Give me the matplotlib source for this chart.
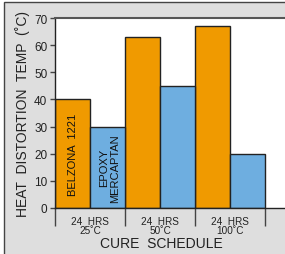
import matplotlib.pyplot as plt
from matplotlib.patches import Rectangle

plt.rcParams['font.family'] = ['Liberation Sans', 'DejaVu Sans']

# data
schedules = ['24  HRS\n25˚C', '24  HRS\n50˚C', '24  HRS\n100˚C']
belzona = [40, 63, 67]
epoxy = [30, 45, 20]
orange = '#f09a00'
blue = '#6eaee0'
bg = '#dedede'

fig = plt.figure(figsize=(2.85, 2.55), dpi=100)
fig.patch.set_facecolor('white')
# outer grey panel with frame
fig.patches.append(Rectangle((4/285, -0.1), 1.2, (255-3)/255 + 0.1, transform=fig.transFigure,
                             facecolor=bg, edgecolor='#444444', linewidth=1.0, zorder=-1))

ax = fig.add_axes([55/285, (255-209)/255, 230/285, (209-19)/255])
ax.set_zorder(1)
ax.set_facecolor('white')

xs = [1, 3, 5]
ax.bar([x - 0.5 for x in xs], belzona, width=1, color=orange, edgecolor='#222222', linewidth=1.0, zorder=2)
ax.bar([x + 0.5 for x in xs], epoxy, width=1, color=blue, edgecolor='#222222', linewidth=1.0, zorder=2)

ax.text(0.5, belzona[0] / 2, 'BELZONA  1221', rotation=90, ha='center', va='center', fontsize=8, color='#111111')
ax.text(1.55, epoxy[0] / 2, 'EPOXY\nMERCAPTAN', rotation=90, ha='center', va='center', fontsize=8,
        color='#111111', multialignment='center', linespacing=1.1)

ax.set_xlim(0, 230/35)
ax.set_ylim(0, 70)
ax.set_yticks(range(0, 71, 10))

ax.set_xticks([0, 2, 4, 6])
ax.set_xticklabels([])
ax.set_xticks(xs, minor=True)
ax.set_xticklabels(schedules, minor=True, fontsize=7.2, linespacing=0.95)
ax.tick_params(axis='x', which='major', length=13, width=1.0, color='#444444')
ax.tick_params(axis='x', which='minor', length=0, pad=5.5, colors='#222222')
ax.tick_params(axis='y', length=3.5, width=1.0, color='#444444', labelsize=8.5, labelcolor='#222222', pad=2)

ax.spines['right'].set_visible(False)
ax.spines['top'].set_color('#555555')
ax.spines['top'].set_linewidth(1.5)
ax.spines['left'].set_color('#222222')
ax.spines['bottom'].set_color('#222222')
ax.spines['left'].set_linewidth(1.0)
ax.spines['bottom'].set_linewidth(1.0)

ax.set_ylabel('HEAT  DISTORTION  TEMP  (˚C)', fontsize=10, color='#222222', labelpad=3)
fig.text(161/285, 1 - 244/255, 'CURE  SCHEDULE', ha='center', va='center', fontsize=10, color='#222222')

fig.savefig('out.png', dpi=100, facecolor=fig.get_facecolor())
